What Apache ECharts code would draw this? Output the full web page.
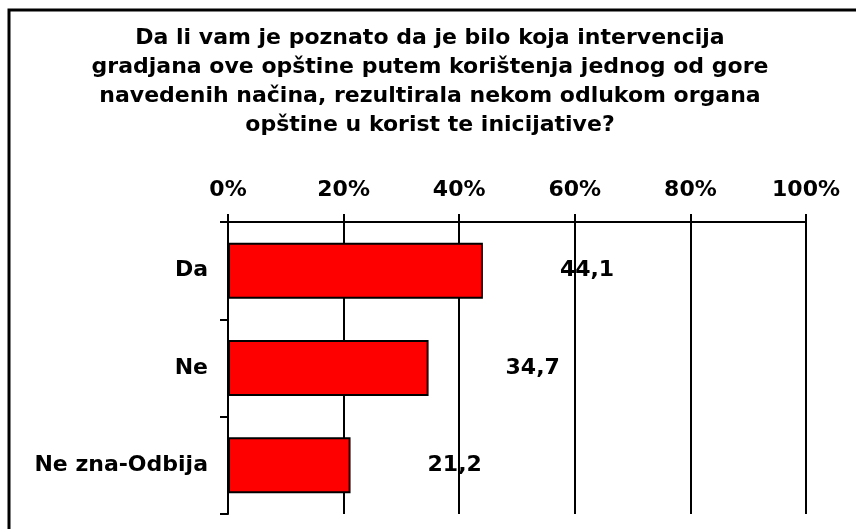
<!DOCTYPE html>
<html>
<head>
<meta charset="utf-8">
<script src="https://cdn.jsdelivr.net/npm/echarts@6/dist/echarts.min.js"></script>
<style>html,body{margin:0;padding:0;background:#fff;}#c{width:856px;height:529px;}</style>
</head>
<body>
<div id="c"></div>
<script>
var titleText = "Da li vam je poznato da je bilo koja intervencija\ngradjana ove opštine putem korištenja jednog od gore\nnavedenih načina, rezultirala nekom odlukom organa\nopštine u korist te inicijative?";
var categories = ["Da", "Ne", "Ne zna-Odbija"];
var values = [44.1, 34.7, 21.2];
var tickLabels = ["0%", "20%", "40%", "60%", "80%", "100%"];

var font = "'DejaVu Sans', Verdana, sans-serif";
var chart = echarts.init(document.getElementById('c'), null, {renderer: 'canvas'});
chart.setOption({
  backgroundColor: '#fff',
  animation: false,
  title: {
    text: titleText,
    left: 425, top: 19,
    textAlign: 'center',
    textStyle: {fontFamily: font, fontWeight: 'bold', fontSize: 22, lineHeight: 29, color: '#000'}
  },
  graphic: [{
    type: 'rect', shape: {x: 9, y: 10, width: 900, height: 600},
    style: {fill: 'none', stroke: '#000', lineWidth: 3}, silent: true
  }],
  grid: {left: 228, right: 50, top: 222, bottom: 15},
  xAxis: {
    type: 'value', position: 'top', min: 0, max: 100, interval: 20,
    axisLine: {show: true, lineStyle: {color: '#000', width: 2}},
    axisTick: {show: true, length: 8, lineStyle: {color: '#000', width: 2}},
    splitLine: {show: true, lineStyle: {color: '#000', width: 2}},
    axisLabel: {margin: 21, fontFamily: font, fontWeight: 'bold', fontSize: 22, color: '#000',
      formatter: function (v) { return tickLabels[Math.round(v / 20)]; }}
  },
  yAxis: {
    type: 'category', data: categories, inverse: true,
    axisLine: {show: true, lineStyle: {color: '#000', width: 2}},
    axisTick: {show: true, length: 8, lineStyle: {color: '#000', width: 2}},
    axisLabel: {margin: 20, fontFamily: font, fontWeight: 'bold', fontSize: 22, color: '#000'}
  },
  series: [{
    type: 'bar', data: values, barWidth: 56,
    itemStyle: {color: '#FF0000', borderColor: '#000', borderWidth: 2},
    label: {show: true, position: 'right', distance: 77, fontFamily: font, fontWeight: 'bold', fontSize: 22, color: '#000',
      formatter: function (p) { return String(p.value).replace('.', ','); }}
  }]
});
</script>
</body>
</html>
